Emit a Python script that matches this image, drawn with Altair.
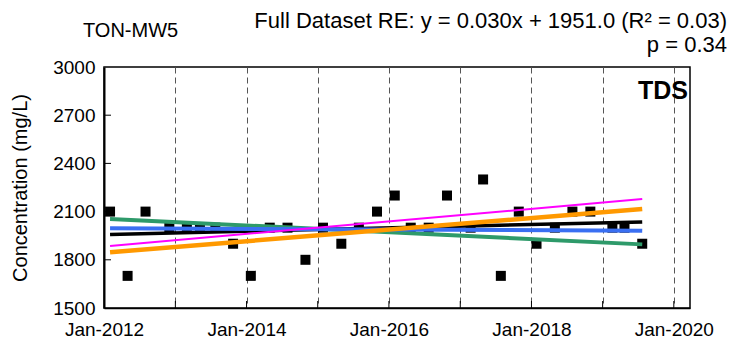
import altair as alt
import pandas as pd

# ---- data ----
sample_dates = [
    "2012-02-01", "2012-05-01", "2012-08-01", "2012-12-01", "2013-03-01", "2013-05-07",
    "2013-07-25", "2013-10-24", "2014-01-23", "2014-04-30", "2014-07-30", "2014-10-30",
    "2015-01-28", "2015-05-02", "2015-07-31", "2015-11-01", "2016-01-31", "2016-04-22",
    "2016-07-23", "2016-10-25", "2017-02-23", "2017-04-28", "2017-07-28", "2017-10-28",
    "2018-01-27", "2018-05-01", "2018-07-30", "2018-10-30", "2019-02-20", "2019-04-23",
    "2019-07-23",
]
tds_values = [
    2100, 1700, 2100, 2000, 2000, 2000,
    2000, 1900, 1700, 2000, 2000, 1800,
    2000, 1900, 2000, 2100, 2200, 2000,
    2000, 2200, 2000, 2300, 1700, 2100,
    1900, 2000, 2100, 2100, 2000, 2000,
    1900,
]

trend_names = ["green", "black", "blue", "orange", "magenta"]
trend_colors = ["#2e9a6a", "#000000", "#3a6ff2", "#ff9900", "#ff00ff"]
trend_widths = [4, 3.5, 4, 4.5, 2]
trend_start = [2054, 1958, 1996, 1847, 1886]
trend_end = [1896, 2036, 1981, 2116, 2178]
trend_dates = ["2012-02-01", "2019-07-23"]

year_ticks = list(range(2012, 2021))
y_ticks = [1500, 1800, 2100, 2400, 2700, 3000]

title_left = "TON-MW5"
title_right = "Full Dataset RE: y = 0.030x + 1951.0 (R\u00b2 = 0.03)"
title_p = "p = 0.34"
analyte = "TDS"

FONT = "Liberation Sans"
W, H = 586, 241

pts = pd.DataFrame({"date": sample_dates, "value": tds_values})

x_scale = alt.Scale(type="utc", domain=[alt.DateTime(year=2012, month=1, date=1, utc=True),
                                         alt.DateTime(year=2020, month=3, date=24, utc=True)])
y_scale = alt.Scale(domain=[1500, 3000], nice=False, zero=False)

x_axis = alt.Axis(
    values=[alt.DateTime(year=y, month=1, date=1, utc=True) for y in year_ticks],
    labelExpr="utcyear(datum.value) % 2 == 0 ? utcFormat(datum.value, '%b-%Y') : ''",
    grid=True, gridDash=[6, 4], gridColor="#555555", gridWidth=1,
    ticks=False, domainColor="black", domainWidth=1.5,
    labelFont=FONT, labelFontSize=19, labelColor="black", labelPadding=12,
    labelFlush=False, labelOverlap=False, title=None,
)
y_axis = alt.Axis(
    values=y_ticks, format="d", grid=False, ticks=False, domainColor="black", domainWidth=2,
    labelFont=FONT, labelFontSize=19, labelColor="black", labelPadding=9,
    title="Concentration (mg/L)", titleFont=FONT, titleFontSize=20,
    titleFontWeight="normal", titleColor="black", titlePadding=22,
)

points = alt.Chart(pts).mark_square(size=100, color="black", opacity=1).encode(
    x=alt.X("date:T", scale=x_scale, axis=x_axis),
    y=alt.Y("value:Q", scale=y_scale, axis=y_axis),
)

xt = pd.DataFrame({"date": [f"{y}-01-01" for y in year_ticks[1:]]})
x_tick_rules = alt.Chart(xt).mark_rule(color="black", strokeWidth=1).encode(
    x="date:T", y=alt.value(H), y2=alt.value(H - 7)
)
yt = pd.DataFrame({"v": y_ticks[1:-1]})
y_tick_rules = alt.Chart(yt).mark_rule(color="black", strokeWidth=1).encode(
    y="v:Q", x=alt.value(0), x2=alt.value(7)
)

layers = [x_tick_rules, y_tick_rules, points]
for name, col, w, s, e in zip(trend_names, trend_colors, trend_widths, trend_start, trend_end):
    df = pd.DataFrame({"date": trend_dates, "value": [s, e]})
    layers.append(
        alt.Chart(df).mark_line(color=col, strokeWidth=w).encode(x="date:T", y="value:Q")
    )

txt = pd.DataFrame({"a": [0]})
layers.append(alt.Chart(txt).mark_text(text=title_left, font=FONT, fontSize=20, align="left",
                                       baseline="middle", color="black").encode(
    x=alt.value(-21), y=alt.value(-36)))
layers.append(alt.Chart(txt).mark_text(text=title_right, font=FONT, fontSize=22, align="right",
                                       baseline="middle", color="black").encode(
    x=alt.value(623), y=alt.value(-46)))
layers.append(alt.Chart(txt).mark_text(text=title_p, font=FONT, fontSize=22, align="right",
                                       baseline="middle", color="black").encode(
    x=alt.value(623), y=alt.value(-22)))
layers.append(alt.Chart(txt).mark_text(text=analyte, font=FONT, fontSize=25, fontWeight="bold",
                                       align="right", baseline="middle", color="black").encode(
    x=alt.value(584), y=alt.value(24)))

chart = alt.layer(*layers).properties(
    width=W, height=H,
    autosize=alt.AutoSizeParams(type="none"),
    padding={"left": 96, "top": 59, "right": 40, "bottom": 33},
).configure_view(stroke="black", strokeWidth=1.5)

chart.save("out.html", embed_options={"renderer": "svg", "actions": False})
